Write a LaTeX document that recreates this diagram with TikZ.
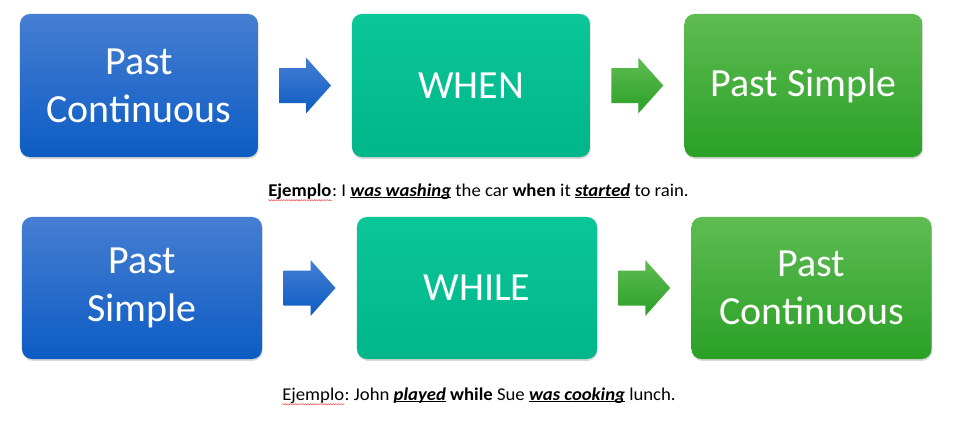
\documentclass[tikz,border=0pt]{standalone}
\usepackage{fontspec}
\setmainfont{Carlito}
\newfontfamily\exfont[FakeStretch=1.04]{Carlito}
\usetikzlibrary{calc,shadows,decorations.pathmorphing}

\definecolor{bluetop}{RGB}{70,126,210}
\definecolor{bluebot}{RGB}{12,92,196}
\definecolor{tealtop}{RGB}{10,198,152}
\definecolor{tealbot}{RGB}{0,182,138}
\definecolor{greentop}{RGB}{94,188,82}
\definecolor{greenbot}{RGB}{42,160,38}

% underlined bold italic words
\newcommand{\wordline}[1]{\setbox0\hbox{#1}\rlap{\rule[-1.5pt]{\wd0}{0.6pt}}\box0\relax}
\newcommand{\stress}[1]{\wordline{\textbf{\textit{#1}}}}

\tikzset{
  tensebox/.style={rounded corners=0.25cm, minimum width=5.95cm, minimum height=3.575cm,
    inner sep=0pt, text=white, align=center, font=\fontsize{28.4}{34}\selectfont,
    drop shadow={shadow xshift=0.5pt, shadow yshift=-1.3pt, opacity=0.3}},
  bluebox/.style={tensebox, top color=bluetop, bottom color=bluebot},
  tealbox/.style={tensebox, top color=tealtop, bottom color=tealbot},
  greenbox/.style={tensebox, top color=greentop, bottom color=greenbot},
  bluearr/.style={top color=bluetop, bottom color=bluebot,
    drop shadow={shadow xshift=0.5pt, shadow yshift=-1pt, opacity=0.3}},
  greenarr/.style={top color=greentop, bottom color=greenbot,
    drop shadow={shadow xshift=0.5pt, shadow yshift=-1pt, opacity=0.3}},
  blockarr/.pic={
    \path[pic actions] (-26,-17.5) -- (1,-17.5) -- (1,-28) -- (26,0) -- (1,28) -- (1,17.5) -- (-26,17.5) -- cycle;
  },
  extext/.style={inner sep=0pt, font=\exfont\fontsize{12.8}{15}\selectfont\frenchspacing},
  spell/.style={red!70, line width=0.35pt, decorate,
    decoration={snake, amplitude=0.45pt, segment length=1.8pt}}
}

\begin{document}
\begin{tikzpicture}[x=0.025cm,y=-0.025cm]
  \fill[white] (0,0) rectangle (959,421);
  \useasboundingbox (0,0) rectangle (959,421);
  % Fila 1
  \node[bluebox] (pc1) at (139,85.5) {Past\\Continuous};
  \node[tealbox] (when) at (471,85.5) {WHEN};
  \node[greenbox] (ps1) at (803.5,85.5) {Past Simple};
  \pic[bluearr] at ($(pc1.east)!0.5!(when.west)$) {blockarr};
  \pic[greenarr] at ($(when.east)!0.5!(ps1.west)$) {blockarr};
  % Ejemplo 1
  \node[extext, anchor=base west] (ej1) at (268,196) {\textbf{Ejemplo}};
  \node[extext, anchor=base west] (ex1) at (ej1.base east) {: I \stress{was washing} the car \textbf{when} it \stress{started} to rain.};
  \draw[spell] ([yshift=-3pt]ej1.base west) -- ([yshift=-3pt]ej1.base east);
  % Fila 2
  \node[bluebox, minimum width=6cm, minimum height=3.55cm] (ps2) at (142,288) {Past\\Simple};
  \node[tealbox, minimum width=6cm, minimum height=3.55cm] (while) at (477,288) {WHILE};
  \node[greenbox, minimum width=6cm, minimum height=3.55cm] (pc2) at (811.5,288) {Past\\Continuous};
  \pic[bluearr] at ($(ps2.east)!0.5!(while.west)$) {blockarr};
  \pic[greenarr] at ($(while.east)!0.5!(pc2.west)$) {blockarr};
  % Ejemplo 2
  \node[extext, anchor=base west] (ej2) at (282,400) {Ejemplo};
  \node[extext, anchor=base west] (ex2) at (ej2.base east) {: John \stress{played} \textbf{while} Sue \stress{was cooking} lunch.};
  \draw[spell] ([yshift=-3pt]ej2.base west) -- ([yshift=-3pt]ej2.base east);
\end{tikzpicture}
\end{document}
